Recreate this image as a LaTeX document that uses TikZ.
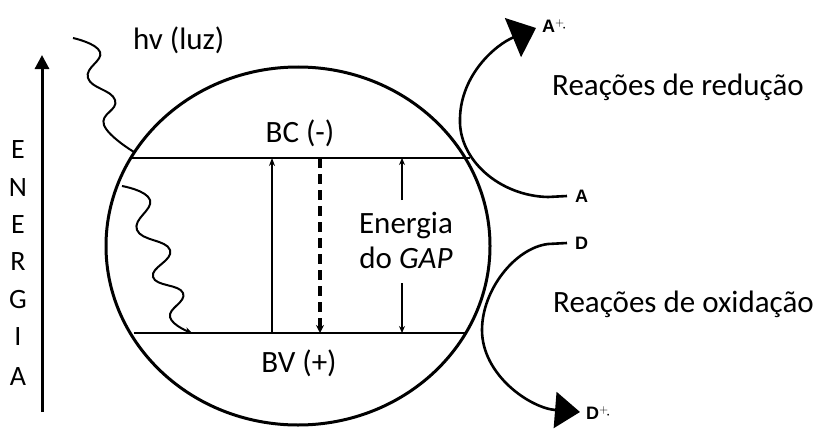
\documentclass[tikz,border=0pt]{standalone}
\usepackage{fontspec}
\setmainfont{Carlito}
\newfontfamily\labfont{Liberation Sans}
\usetikzlibrary{arrows.meta}
\tikzset{
  bigtxt/.style={font=\fontsize{31}{35}\selectfont, inner sep=0pt},
  lettxt/.style={font=\fontsize{28}{30}\selectfont, inner sep=0pt},
  chemtxt/.style={font=\labfont\bfseries\fontsize{18}{21}\selectfont, inner sep=0pt},
  band/.style={line width=2.6pt},
  thinarrow/.style={line width=1.4pt, -{Stealth[length=8pt,width=6pt]}},
  gaparrow/.style={line width=1.1pt, -{Stealth[length=7pt,width=6pt]}},
  dasharrow/.style={line width=3.4pt, dash pattern=on 10pt off 6pt, -{Stealth[length=8pt,width=8pt]}},
  wave/.style={line width=2pt},
  reaction/.style={line width=2.6pt},
}
\begin{document}
\begin{tikzpicture}[x=1pt,y=-1pt]
\useasboundingbox (0,0) rectangle (821,428);
% particle
\draw[line width=3pt] (298,246) ellipse [x radius=192, y radius=179];
% band coordinates
\coordinate (bcL) at (131,158);
\coordinate (bcR) at (470,158);
\coordinate (bvL) at (134,333);
\coordinate (bvR) at (466,333);
\draw[band] (bcL) -- (bcR);
\draw[band] (bvL) -- (bvR);
% labels
\node[bigtxt, anchor=base] (bc) at (300,142) {BC (-)};
\node[bigtxt, anchor=base] (bv) at (299,372) {BV (+)};
\node[bigtxt, anchor=base] (gap1) at (406,233) {Energia};
\node[bigtxt, anchor=base] (gap2) at (406,268) {do \textit{GAP}};
% transitions
\coordinate (s1) at (272,333); \coordinate (s2) at (272,158);
\draw[thinarrow] (s1) -- (s2);
\coordinate (d1) at (320,158); \coordinate (d2) at (320,333);
\draw[dasharrow] (d1) -- (d2);
\coordinate (g1) at (402,200); \coordinate (g2) at (402,158);
\coordinate (g3) at (402,283); \coordinate (g4) at (402,333);
\draw[gaparrow] (g1) -- (g2);
\draw[gaparrow] (g3) -- (g4);
% light
\node[bigtxt, anchor=base west] (hv) at (133,50) {hv (luz)};
\draw[wave] plot[smooth, tension=0.8] coordinates {(73,38) (100,52) (88,78) (115,100) (104,125) (134,152)};
\draw[wave, -{Stealth[length=7pt,width=7pt]}] plot[smooth, tension=0.8] coordinates {(122,186) (150,200) (137,230) (170,250) (153,277) (183,293) (170,317) (192,333)};
% energy axis
\coordinate (e1) at (42,412); \coordinate (e2) at (42,55);
\draw[line width=3pt, -{Triangle[length=14pt,width=14pt]}] (e1) -- (e2);
\foreach \l/\y in {E/150, N/188, E/225, R/262, G/300, I/337, A/377}
  \node[lettxt] at (18,\y) {\l};
% reactions
\node[chemtxt, anchor=west] (A) at (575,196) {A};
\node[chemtxt, anchor=west] (Arad) at (542,26) {A$^{+}\!\cdot$};
\node[chemtxt, anchor=west] (D) at (575,243) {D};
\node[chemtxt, anchor=west] (Drad) at (586,413) {D$^{+}\!\cdot$};
\draw[reaction, -{Triangle[length=25pt,width=42pt]}] ([xshift=-8pt]A.west) -- (548,197) .. controls (500,196) and (458,160) .. (460,118) .. controls (461,75) and (495,45) .. (536,28);
\draw[reaction, -{Triangle[length=25pt,width=36pt]}] ([xshift=-8pt]D.west) -- (548,244) .. controls (515,248) and (482,290) .. (482,330) .. controls (482,375) and (530,408) .. (580,412);
\node[bigtxt, anchor=base west] (red) at (552,95) {Reações de redução};
\node[bigtxt, anchor=base west] (oxi) at (553,312) {Reações de oxidação};
\end{tikzpicture}
\end{document}
